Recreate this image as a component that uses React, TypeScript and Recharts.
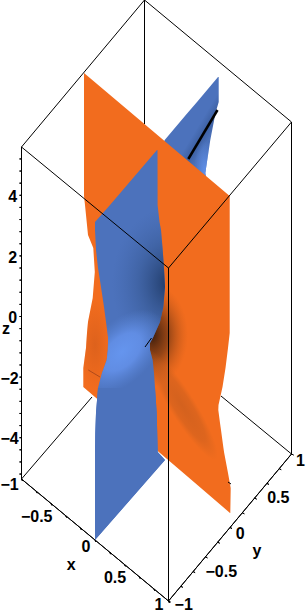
import { ComposedChart, Area, Line, XAxis, YAxis, ReferenceDot } from "recharts";

// Maple style 3D plot, projected onto the page. Everything below is in projected units.
const orangeY = [73, 196, 205, 235, 248, 272, 298, 322, 333, 348, 368, 387, 405, 410, 423, 430, 447, 453, 473, 488, 513];
const orangeLeft = [84, 84, 85, 88, 93.3, 94.8, 92.7, 88, 87, 86, 83.3, 83.3, 104.3, 110, 125, 133.4, 153, 160, 183.4, 200.9, 230];
const orangeRight = [84, 229.7, 229.7, 229.7, 229.7, 229.7, 229.7, 229.7, 229.7, 228, 225.5, 222.5, 218.5, 218.3, 220, 221, 223.3, 224.2, 228, 230.7, 230.3];

const blueY = [150, 205, 222, 230, 250, 268, 287, 307, 322, 337, 343, 350, 360, 373, 388, 413, 433, 452, 460, 473, 540];
const blueLeft = [157, 110, 95, 95, 96, 98, 101, 104, 106, 108, 108, 107.8, 106.7, 102, 98, 96, 95.3, 95, 95, 95, 95];
const blueRight = [157.5, 157.6, 159.5, 161, 162.7, 164, 165, 163.3, 160, 153.3, 150, 150, 152.7, 154, 155, 156.7, 157.2, 157.7, 165, 153.6, 95];

const wingY = [77, 102, 113, 140, 173, 177];
const wingLeft = [218, 197, 187.5, 164.7, 152, 150];
const wingRight = [218.7, 218.7, 215.5, 210.3, 205.3, 206];

const topFrame = [
  { x: 144.5, y: 0 },
  { x: 21.5, y: 147 },
  { x: 168.5, y: 268 },
  { x: 291.5, y: 122 },
  { x: 144.5, y: 0 },
];
const sideFrames = [
  [{ x: 144.5, y: 0 }, { x: 144.5, y: 124 }],
  [{ x: 21.5, y: 147 }, { x: 21.5, y: 479 }],
  [{ x: 291.5, y: 122 }, { x: 291.5, y: 454 }],
  [{ x: 168.5, y: 268 }, { x: 168.5, y: 601 }],
  [{ x: 21.5, y: 479 }, { x: 92, y: 397 }],
  [{ x: 291.5, y: 454 }, { x: 221, y: 396 }],
  [{ x: 21.5, y: 479 }, { x: 168.5, y: 601 }, { x: 291.5, y: 454 }],
  [{ x: 145, y: 347 }, { x: 151.5, y: 338 }],
  [{ x: 228, y: 482 }, { x: 231, y: 484 }],
];
const spaceCurve = [{ x: 217.5, y: 110 }, { x: 188.3, y: 159 }];
const orangeScar = [{ x: 88.3, y: 370 }, { x: 100, y: 377 }];

const zMinorTicks = [5.2, 4.8, 4.4, 4, 3.6, 3.2, 2.8, 2.4, 2, 1.6, 1.2, 0.8, 0.4, 0, -0.4, -0.8, -1.2, -1.6, -2, -2.4, -2.8, -3.2, -3.6, -4, -4.4, -4.8, -5.2];
const floorTicks = [-1, -0.8, -0.6, -0.4, -0.2, 0, 0.2, 0.4, 0.6, 0.8, 1];

const labels = [
  { text: "4", x: 12.7, y: 196 },
  { text: "2", x: 12.7, y: 257 },
  { text: "0", x: 12.7, y: 317 },
  { text: "z", x: 6, y: 328 },
  { text: "\u22122", x: 9.5, y: 378 },
  { text: "\u22124", x: 9.5, y: 438 },
  { text: "\u22121", x: 9.5, y: 484 },
  { text: "\u22120.5", x: 36.7, y: 516 },
  { text: "0", x: 86, y: 546 },
  { text: "x", x: 71.3, y: 564 },
  { text: "0.5", x: 115, y: 577 },
  { text: "1", x: 159, y: 604.8 },
  { text: "\u22121", x: 183.7, y: 604.8 },
  { text: "\u22120.5", x: 221.3, y: 571 },
  { text: "0", x: 240.3, y: 533 },
  { text: "y", x: 257, y: 550 },
  { text: "0.5", x: 278.3, y: 497 },
  { text: "1", x: 300.5, y: 460 },
];

const rows = (ys: number[], lefts: number[], rights: number[]) =>
  ys.map((y, i) => ({ y, edge: [lefts[i], rights[i]] }));

const orangeRows = rows(orangeY, orangeLeft, orangeRight);
const blueRows = rows(blueY, blueLeft, blueRight);
const wingRows = rows(wingY, wingLeft, wingRight);
// lower part of the blue sheet is flat lit, it cuts the glow off sharply
const blueLowerRows = blueRows.filter((r) => r.y >= 388);

// little spurs along the box edges, drawn as one polyline per axis
const zTickPath = zMinorTicks.flatMap((z) => {
  const y = 316.5 - z * 30.3;
  return [{ x: 21.5, y }, { x: 19.5, y }, { x: 21.5, y }];
});
const xTickPath = floorTicks.flatMap((t) => {
  const x = 95 + t * 73.5;
  const y = 540 + t * 61;
  return [{ x, y }, { x: x + 1, y: y + 2 }, { x, y }];
});
const yTickPath = floorTicks.flatMap((t) => {
  const x = 230 + t * 61.5;
  const y = 527.5 - t * 73.5;
  return [{ x, y }, { x: x + 2, y: y + 1 }, { x, y }];
});

const FONT = '"Liberation Sans", Arimo, sans-serif';

const sheet = (key: string, data: { y: number; edge: number[] }[], fill: string) => (
  <Area
    key={key}
    data={data}
    dataKey="edge"
    type="linear"
    fill={fill}
    fillOpacity={1}
    stroke="none"
    dot={false}
    activeDot={false}
    isAnimationActive={false}
  />
);

const wire = (key: string, data: { x: number; y: number }[], stroke = "#000", width = 1) => (
  <Line
    key={key}
    data={data}
    dataKey="x"
    type="linear"
    stroke={stroke}
    strokeWidth={width}
    dot={false}
    activeDot={false}
    isAnimationActive={false}
  />
);

export default function App() {
  return (
    <div style={{ position: "absolute", left: 0, top: 0, width: 306, height: 614, background: "#fff" }}>
      <ComposedChart
        width={306}
        height={614}
        layout="vertical"
        margin={{ top: 0, right: 0, bottom: 0, left: 0 }}
      >
        <defs>
          <radialGradient id="blueShadow" gradientUnits="userSpaceOnUse" cx="0" cy="0" r="1"
            gradientTransform="translate(170 283) scale(58 76)">
            <stop offset="0%" stopColor="#1a3058" stopOpacity={0.95} />
            <stop offset="18%" stopColor="#233f6e" stopOpacity={0.8} />
            <stop offset="55%" stopColor="#2f4f84" stopOpacity={0.4} />
            <stop offset="100%" stopColor="#3c5f9f" stopOpacity={0} />
          </radialGradient>
          <radialGradient id="blueGlow" gradientUnits="userSpaceOnUse" cx="0" cy="0" r="1"
            gradientTransform="translate(122 352) rotate(45) scale(30 52)">
            <stop offset="0%" stopColor="#6595ee" stopOpacity={1} />
            <stop offset="45%" stopColor="#6390e8" stopOpacity={0.9} />
            <stop offset="100%" stopColor="#5a86d8" stopOpacity={0} />
          </radialGradient>
          <radialGradient id="orangeShadow" gradientUnits="userSpaceOnUse" cx="0" cy="0" r="1"
            gradientTransform="translate(152 335) scale(36 52)">
            <stop offset="0%" stopColor="#3a1c0c" stopOpacity={1} />
            <stop offset="45%" stopColor="#6e3412" stopOpacity={0.7} />
            <stop offset="100%" stopColor="#b8561a" stopOpacity={0} />
          </radialGradient>
          <radialGradient id="orangeStreak" gradientUnits="userSpaceOnUse" cx="0" cy="0" r="1"
            gradientTransform="translate(182 405) rotate(-32) scale(13 64)">
            <stop offset="0%" stopColor="#bf5a1e" stopOpacity={0.6} />
            <stop offset="65%" stopColor="#c45c1e" stopOpacity={0.45} />
            <stop offset="100%" stopColor="#c8601e" stopOpacity={0} />
          </radialGradient>
          <radialGradient id="orangeSide" gradientUnits="userSpaceOnUse" cx="0" cy="0" r="1"
            gradientTransform="translate(95 345) scale(16 45)">
            <stop offset="0%" stopColor="#d85f1c" stopOpacity={0.8} />
            <stop offset="100%" stopColor="#d85f1c" stopOpacity={0} />
          </radialGradient>
          <linearGradient id="wingFill" gradientUnits="userSpaceOnUse" x1="178" y1="120" x2="228" y2="150">
            <stop offset="0%" stopColor="#4c72bc" />
            <stop offset="35%" stopColor="#4c72bc" />
            <stop offset="50%" stopColor="#3d60a2" />
            <stop offset="62%" stopColor="#4a70b8" />
            <stop offset="100%" stopColor="#4c72bc" />
          </linearGradient>
          <radialGradient id="wingGlow" gradientUnits="userSpaceOnUse" cx="0" cy="0" r="1"
            gradientTransform="translate(205 172) scale(11 32)">
            <stop offset="0%" stopColor="#6090ea" stopOpacity={1} />
            <stop offset="100%" stopColor="#6090ea" stopOpacity={0} />
          </radialGradient>
        </defs>
        <XAxis type="number" domain={[0, 306]} hide allowDataOverflow />
        <YAxis type="number" dataKey="y" domain={[0, 614]} hide allowDataOverflow />

        {sheet("wing", wingRows, "url(#wingFill)")}
        {sheet("wingGlow", wingRows, "url(#wingGlow)")}
        {sheet("orange", orangeRows, "#f26c1e")}
        {sheet("orangeSide", orangeRows, "url(#orangeSide)")}
        {sheet("orangeShadow", orangeRows, "url(#orangeShadow)")}
        {sheet("orangeStreak", orangeRows, "url(#orangeStreak)")}
        {sheet("blue", blueRows, "#4c72bc")}
        {sheet("blueShadow", blueRows, "url(#blueShadow)")}
        {sheet("blueGlow", blueRows, "url(#blueGlow)")}
        {sheet("blueLower", blueLowerRows, "#4c72bc")}

        {wire("top", topFrame)}
        {sideFrames.map((f, i) => wire(`side${i}`, f))}
        {wire("zTicks", zTickPath)}
        {wire("xTicks", xTickPath)}
        {wire("yTicks", yTickPath)}
        {wire("scar", orangeScar, "#b04a1a")}
        {wire("curve", spaceCurve, "#000", 2.5)}

        {labels.map((l) => (
          <ReferenceDot
            key={`${l.text}-${l.x}`}
            x={l.x}
            y={l.y}
            r={0}
            stroke="none"
            ifOverflow="visible"
            label={{ value: l.text, position: "center", fontSize: 16, fontFamily: FONT, fill: "#000", fontWeight: 700 }}
          />
        ))}
      </ComposedChart>
    </div>
  );
}
